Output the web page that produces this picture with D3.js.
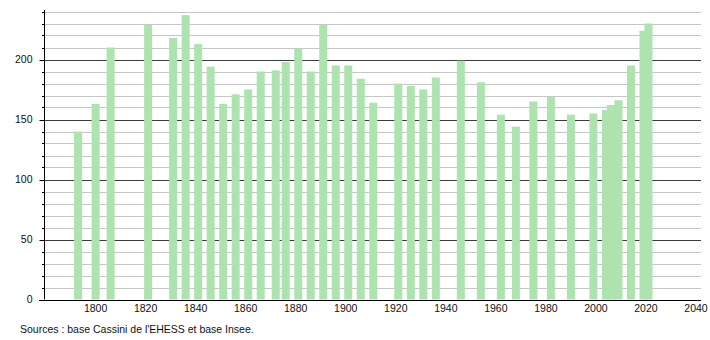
<!DOCTYPE html>
<html><head><meta charset="utf-8">
<script src="https://cdn.jsdelivr.net/npm/d3@7"></script>
<style>
html,body{margin:0;padding:0;background:#fff;}
svg{display:block;font-family:"Liberation Sans",Arial,sans-serif;}
</style></head>
<body><svg id="c" width="710" height="340"></svg>
<script>
const years = [1793,1800,1806,1821,1831,1836,1841,1846,1851,1856,1861,1866,1872,1876,1881,1886,1891,1896,1901,1906,1911,1921,1926,1931,1936,1946,1954,1962,1968,1975,1982,1990,1999,2004,2006,2009,2014,2019,2021];
const population = [140,163,210,229,218,237,213,194,163,171,175,190,191,198,209,190,229,195,195,184,164,180,178,175,185,199,181,154,144,165,169,154,155,158,162,166,195,224,230];
const xTicks = [1800,1820,1840,1860,1880,1900,1920,1940,1960,1980,2000,2020,2040];
const yMajorTicks = [0,50,100,150,200];
const yMinorTicks = d3.range(10,250,10).filter(v => v % 50 !== 0);
const sourceText = "Sources : base Cassini de l'EHESS et base Insee.";

const svg = d3.select("#c");
const x = d3.scaleLinear().domain([1779.5, 2042]).range([44.3, 701]);
const y = d3.scaleLinear().domain([0, 241.25]).range([299.5, 10]);

// minor gridlines
svg.append("g").selectAll("line").data(yMinorTicks).join("line")
  .attr("x1", 44).attr("x2", 701)
  .attr("y1", d => Math.round(y(d)) + 0.5).attr("y2", d => Math.round(y(d)) + 0.5)
  .attr("stroke", "#c6c6c6").attr("stroke-width", 1);
// major gridlines
svg.append("g").selectAll("line").data(yMajorTicks.filter(v => v > 0)).join("line")
  .attr("x1", 44).attr("x2", 701)
  .attr("y1", d => Math.round(y(d)) + 0.5).attr("y2", d => Math.round(y(d)) + 0.5)
  .attr("stroke", "#3c3c3c").attr("stroke-width", 1);

// bars
const bw = 8;
svg.append("g").selectAll("rect").data(years).join("rect")
  .attr("x", (d) => x(d) - bw / 2)
  .attr("width", bw)
  .attr("y", (d, i) => y(population[i]))
  .attr("height", (d, i) => y(0) - y(population[i]))
  .attr("fill", "#ade3ae");

// y axis
const yAxisG = svg.append("g").attr("transform", "translate(44.5,0)");
yAxisG.append("line").attr("x1", 0).attr("x2", 0).attr("y1", 10).attr("y2", y(0)).attr("stroke", "#000");
yAxisG.selectAll("line.minor").data(yMinorTicks).join("line").attr("class", "minor")
  .attr("x1", -2.5).attr("x2", 0)
  .attr("y1", d => Math.round(y(d)) + 0.5).attr("y2", d => Math.round(y(d)) + 0.5)
  .attr("stroke", "#000");
yAxisG.selectAll("line.major").data(yMajorTicks).join("line").attr("class", "major")
  .attr("x1", -5).attr("x2", 0)
  .attr("y1", d => Math.round(y(d)) + 0.5).attr("y2", d => Math.round(y(d)) + 0.5)
  .attr("stroke", "#000");
yAxisG.selectAll("text").data(yMajorTicks).join("text")
  .attr("x", -12).attr("y", d => y(d)).attr("dy", "0.35em")
  .attr("text-anchor", "end").attr("font-size", 10.5).attr("fill", "#111")
  .text(d => d);

// x axis
svg.append("line").attr("x1", 39).attr("x2", 701)
  .attr("y1", Math.round(y(0)) + 0.5).attr("y2", Math.round(y(0)) + 0.5)
  .attr("stroke", "#000");
svg.append("g").selectAll("text").data(xTicks).join("text")
  .attr("x", d => x(d)).attr("y", 311.5)
  .attr("text-anchor", "middle").attr("font-size", 10.5).attr("fill", "#111")
  .text(d => d);

svg.append("text").attr("x", 20).attr("y", 333).attr("font-size", 10.5).attr("fill", "#111")
  .text(sourceText);
</script></body></html>
